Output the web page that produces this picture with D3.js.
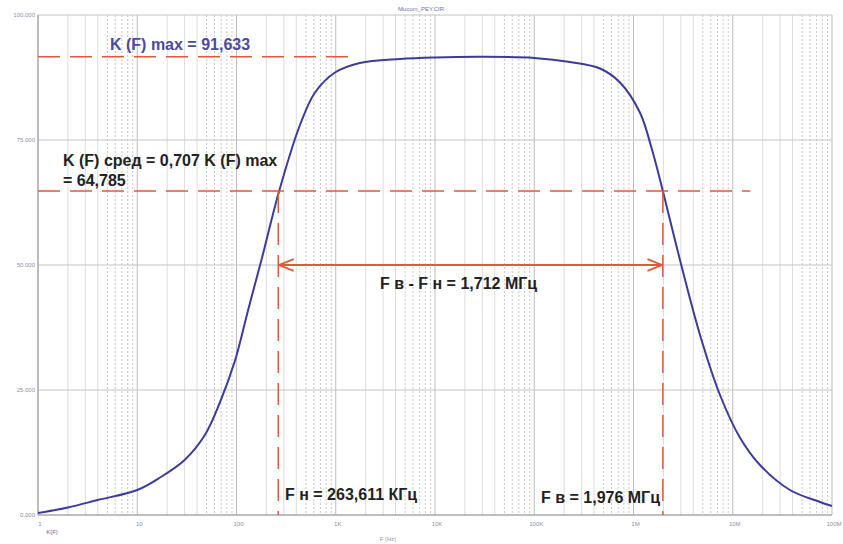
<!DOCTYPE html>
<html>
<head>
<meta charset="utf-8">
<script src="https://cdn.jsdelivr.net/npm/d3@7"></script>
<style>
  body { margin: 0; background: #fff; }
  svg { display: block; font-family: "Liberation Sans", Arial, sans-serif; }
</style>
</head>
<body>
<div id="chart"></div>
<script>
// frequency response K(F)
var freqs = [1, 2, 4, 10, 17, 30, 48, 68, 97, 131, 181, 269, 436, 618, 983, 1750, 4440, 10000, 30000, 100000,
             230000, 460000, 731000, 1160000, 1540000, 1976000, 2940000, 4680000, 7440000, 11800000, 18800000,
             37700000, 75700000, 100000000];
var gain  = [0.4, 1.5, 3, 5, 7.5, 11, 16, 22.5, 31, 41, 51.5, 64.8, 78, 84.5, 88.5, 90.4, 91.2, 91.5, 91.63, 91.4,
             90.6, 89.3, 86.5, 80.5, 73, 64.8, 51, 36, 24, 15.5, 10, 5, 2.6, 1.8];

var xTicks = [1, 10, 100, 1e3, 1e4, 1e5, 1e6, 1e7, 1e8];
var xTickLabels = ["1", "10", "100", "1K", "10K", "100K", "1M", "10M", "100M"];
var yTicks = [0, 25, 50, 75, 100];
var yTickLabels = ["0.000", "25.000", "50.000", "75.000", "100.000"];

var kMax = 91.633, kMid = 64.785;
var fLow = 263.611, fHigh = 1976000;

var width = 843, height = 544;
var svg = d3.select("#chart").append("svg")
    .attr("width", width)
    .attr("height", height);

var x = d3.scaleLog().domain([1, 1e8]).range([38, 832]);
var y = d3.scaleLinear().domain([0, 100]).range([515, 15]);

// grid: minor verticals
var minor = [];
for (var d = 0; d < 8; d++) {
  for (var m = 2; m <= 9; m++) minor.push({ v: m * Math.pow(10, d), m: m });
}
svg.append("g").selectAll("line").data(minor).enter().append("line")
    .attr("x1", function(d) { return x(d.v); })
    .attr("x2", function(d) { return x(d.v); })
    .attr("y1", y(100)).attr("y2", y(0))
    .attr("stroke", function(d) { return d.m >= 5 ? "#c8c8c8" : "#dcdcdc"; })
    .attr("stroke-dasharray", function(d) { return d.m >= 5 ? "2,2" : null; })
    .attr("stroke-width", 1);

// grid: decade verticals
svg.append("g").selectAll("line").data(xTicks).enter().append("line")
    .attr("x1", function(d) { return x(d); })
    .attr("x2", function(d) { return x(d); })
    .attr("y1", y(100)).attr("y2", y(0))
    .attr("stroke", "#bdbdbd");

// grid: horizontals
svg.append("g").selectAll("line").data(yTicks).enter().append("line")
    .attr("x1", x(1)).attr("x2", x(1e8))
    .attr("y1", function(d) { return y(d); })
    .attr("y2", function(d) { return y(d); })
    .attr("stroke", "#c4c4c4");

// frame
svg.append("line").attr("x1", x(1)).attr("x2", x(1)).attr("y1", y(100)).attr("y2", y(0)).attr("stroke", "#9a9a9a");
svg.append("line").attr("x1", x(1)).attr("x2", x(1e8)).attr("y1", y(0)).attr("y2", y(0)).attr("stroke", "#9a9a9a");

// tick labels
svg.append("g").selectAll("text").data(yTicks).enter().append("text")
    .attr("x", 35).attr("y", function(d) { return y(d) + 2; })
    .attr("text-anchor", "end")
    .attr("font-size", 6).attr("fill", "#8a8fb0")
    .text(function(d, i) { return yTickLabels[i]; });

svg.append("g").selectAll("text").data(xTicks).enter().append("text")
    .attr("x", function(d) { return x(d) + 2; }).attr("y", 526)
    .attr("text-anchor", "middle")
    .attr("font-size", 6).attr("fill", "#8a8fb0")
    .text(function(d, i) { return xTickLabels[i]; });

svg.append("text").attr("x", 52).attr("y", 534).attr("text-anchor", "middle")
    .attr("font-size", 6).attr("fill", "#5a5fb0").text("K(F)");
svg.append("text").attr("x", 388).attr("y", 541).attr("text-anchor", "middle")
    .attr("font-size", 6).attr("fill", "#8a8fb0").text("F (Hz)");
svg.append("text").attr("x", 421).attr("y", 11).attr("text-anchor", "middle")
    .attr("font-size", 6).attr("fill", "#6a6fb0").text("Mucom_PEY.CIR");

// the response curve
var line = d3.line()
    .x(function(d) { return x(d[0]); })
    .y(function(d) { return y(d[1]); })
    .curve(d3.curveCatmullRom.alpha(0.5));
svg.append("path")
    .datum(d3.zip(freqs, gain))
    .attr("d", line)
    .attr("fill", "none")
    .attr("stroke", "#3b3b9c")
    .attr("stroke-width", 2);

// annotations
var red = "#dd5a3c";
var dash = "22,10";
svg.append("line").attr("x1", x(1)).attr("x2", x(1600)).attr("y1", y(kMax)).attr("y2", y(kMax))
    .attr("stroke", red).attr("stroke-width", 1.5).attr("stroke-dasharray", dash);
svg.append("line").attr("x1", x(1)).attr("x2", x(1.5e7)).attr("y1", y(kMid)).attr("y2", y(kMid))
    .attr("stroke", red).attr("stroke-width", 1.5).attr("stroke-dasharray", dash);
[fLow, fHigh].forEach(function(f) {
  svg.append("line").attr("x1", x(f)).attr("x2", x(f)).attr("y1", y(kMid)).attr("y2", y(0))
      .attr("stroke", red).attr("stroke-width", 1.5).attr("stroke-dasharray", dash);
});

var defs = svg.append("defs");
defs.append("marker").attr("id", "arr").attr("viewBox", "0 0 10 10")
    .attr("refX", 10).attr("refY", 5).attr("markerWidth", 8).attr("markerHeight", 8)
    .attr("orient", "auto-start-reverse")
    .append("path").attr("d", "M0,1 L10,5 L0,9").attr("fill", "none").attr("stroke", red).attr("stroke-width", 1.3);
svg.append("line").attr("x1", x(fLow) + 1).attr("x2", x(fHigh) - 1).attr("y1", y(50)).attr("y2", y(50))
    .attr("stroke", red).attr("stroke-width", 1.8)
    .attr("marker-start", "url(#arr)").attr("marker-end", "url(#arr)");

function label(tx, ty, str, color) {
  svg.append("text").attr("x", tx).attr("y", ty)
      .attr("font-size", 16).attr("font-weight", "bold")
      .attr("fill", color || "#222").text(str);
}
label(110, 50, "K (F) max = 91,633", "#4a4a9e");
label(63, 166, "K (F) сред = 0,707 K (F) max");
label(63, 186, "= 64,785");
label(380, 289, "F в - F н = 1,712 МГц");
label(285, 500, "F н = 263,611 КГц");
label(541, 503, "F в = 1,976 МГц");
</script>
</body>
</html>
